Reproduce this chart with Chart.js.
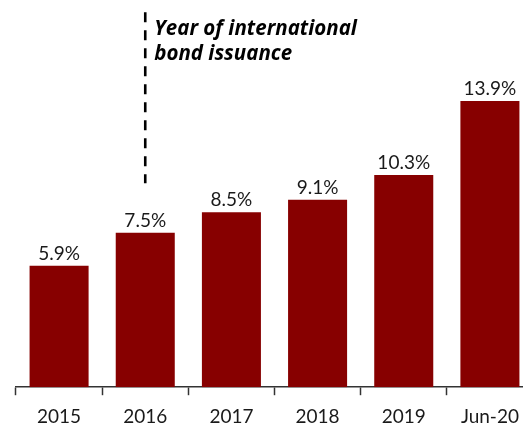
<!DOCTYPE html>
<html>
<head>
<meta charset="utf-8">
<script src="https://cdn.jsdelivr.net/npm/chart.js@4"></script>
<style>
  html, body { margin: 0; padding: 0; background: #fff; overflow: hidden; }
  #wrap { width: 523px; height: 425px; overflow: hidden; }
</style>
</head>
<body>
<div id="wrap"><canvas id="chart" width="540" height="439"></canvas></div>
<script>
// data
const categories = ["2015", "2016", "2017", "2018", "2019", "Jun-20"];
const shares = [5.9, 7.5, 8.5, 9.1, 10.3, 13.9];

// dashed marker at the year of the bond issue
const markerCategory = "2016";
const markerRange = [9.9, 18.2];
const noteLines = ["Year of international", "bond issuance"];
const noteLevels = [17.1, 15.9];

const barColor = "#870000";
const axisColor = "#333333";

/* value labels above each bar */
const valueLabels = {
  id: "valueLabels",
  afterDatasetsDraw(chart) {
    const ctx = chart.ctx;
    const meta = chart.getDatasetMeta(0);
    ctx.save();
    ctx.font = "19px Lato";
    ctx.fillStyle = "#1a1a1a";
    ctx.textAlign = "center";
    ctx.textBaseline = "alphabetic";
    meta.data.forEach((bar, i) => {
      ctx.fillText(shares[i].toFixed(1) + "%", bar.x, bar.y - 6);
    });
    ctx.restore();
  },
};

/* dashed line + note */
const issuanceNote = {
  id: "issuanceNote",
  afterDraw(chart) {
    const ctx = chart.ctx;
    const x = chart.scales.x.getPixelForValue(categories.indexOf(markerCategory));
    const y = chart.scales.y;
    ctx.save();
    ctx.strokeStyle = "#000";
    ctx.lineWidth = 2.6;
    ctx.setLineDash([10, 8]);
    ctx.beginPath();
    ctx.moveTo(x, y.getPixelForValue(markerRange[1]));
    ctx.lineTo(x, y.getPixelForValue(markerRange[0]));
    ctx.stroke();
    ctx.setLineDash([]);
    ctx.font = "italic bold 20.5px 'Open Sans'";
    ctx.fillStyle = "#000";
    ctx.textAlign = "left";
    noteLines.forEach((t, i) => {
      ctx.fillText(t, x + 9, y.getPixelForValue(noteLevels[i]));
    });
    ctx.restore();
  },
};

new Chart(document.getElementById("chart"), {
  type: "bar",
  data: {
    labels: categories,
    datasets: [
      {
        data: shares,
        backgroundColor: barColor,
        categoryPercentage: 1,
        barPercentage: 0.685,
      },
    ],
  },
  options: {
    responsive: false,
    animation: false,
    layout: { padding: { left: 16, right: 7, top: 0, bottom: 0 } },
    plugins: {
      legend: { display: false },
      tooltip: { enabled: false },
    },
    scales: {
      x: {
        grid: {
          display: true,
          drawOnChartArea: false,
          drawTicks: true,
          tickLength: 8,
          tickColor: axisColor,
          tickWidth: 1.5,
          offset: true,
        },
        border: { display: true, color: axisColor, width: 1.5 },
        ticks: {
          color: "#1a1a1a",
          font: { family: "Lato", size: 19 },
          padding: 10.5,
          maxRotation: 0,
        },
      },
      y: {
        display: false,
        min: 0,
        max: 18.8,
      },
    },
  },
  plugins: [valueLabels, issuanceNote],
});
</script>
</body>
</html>
